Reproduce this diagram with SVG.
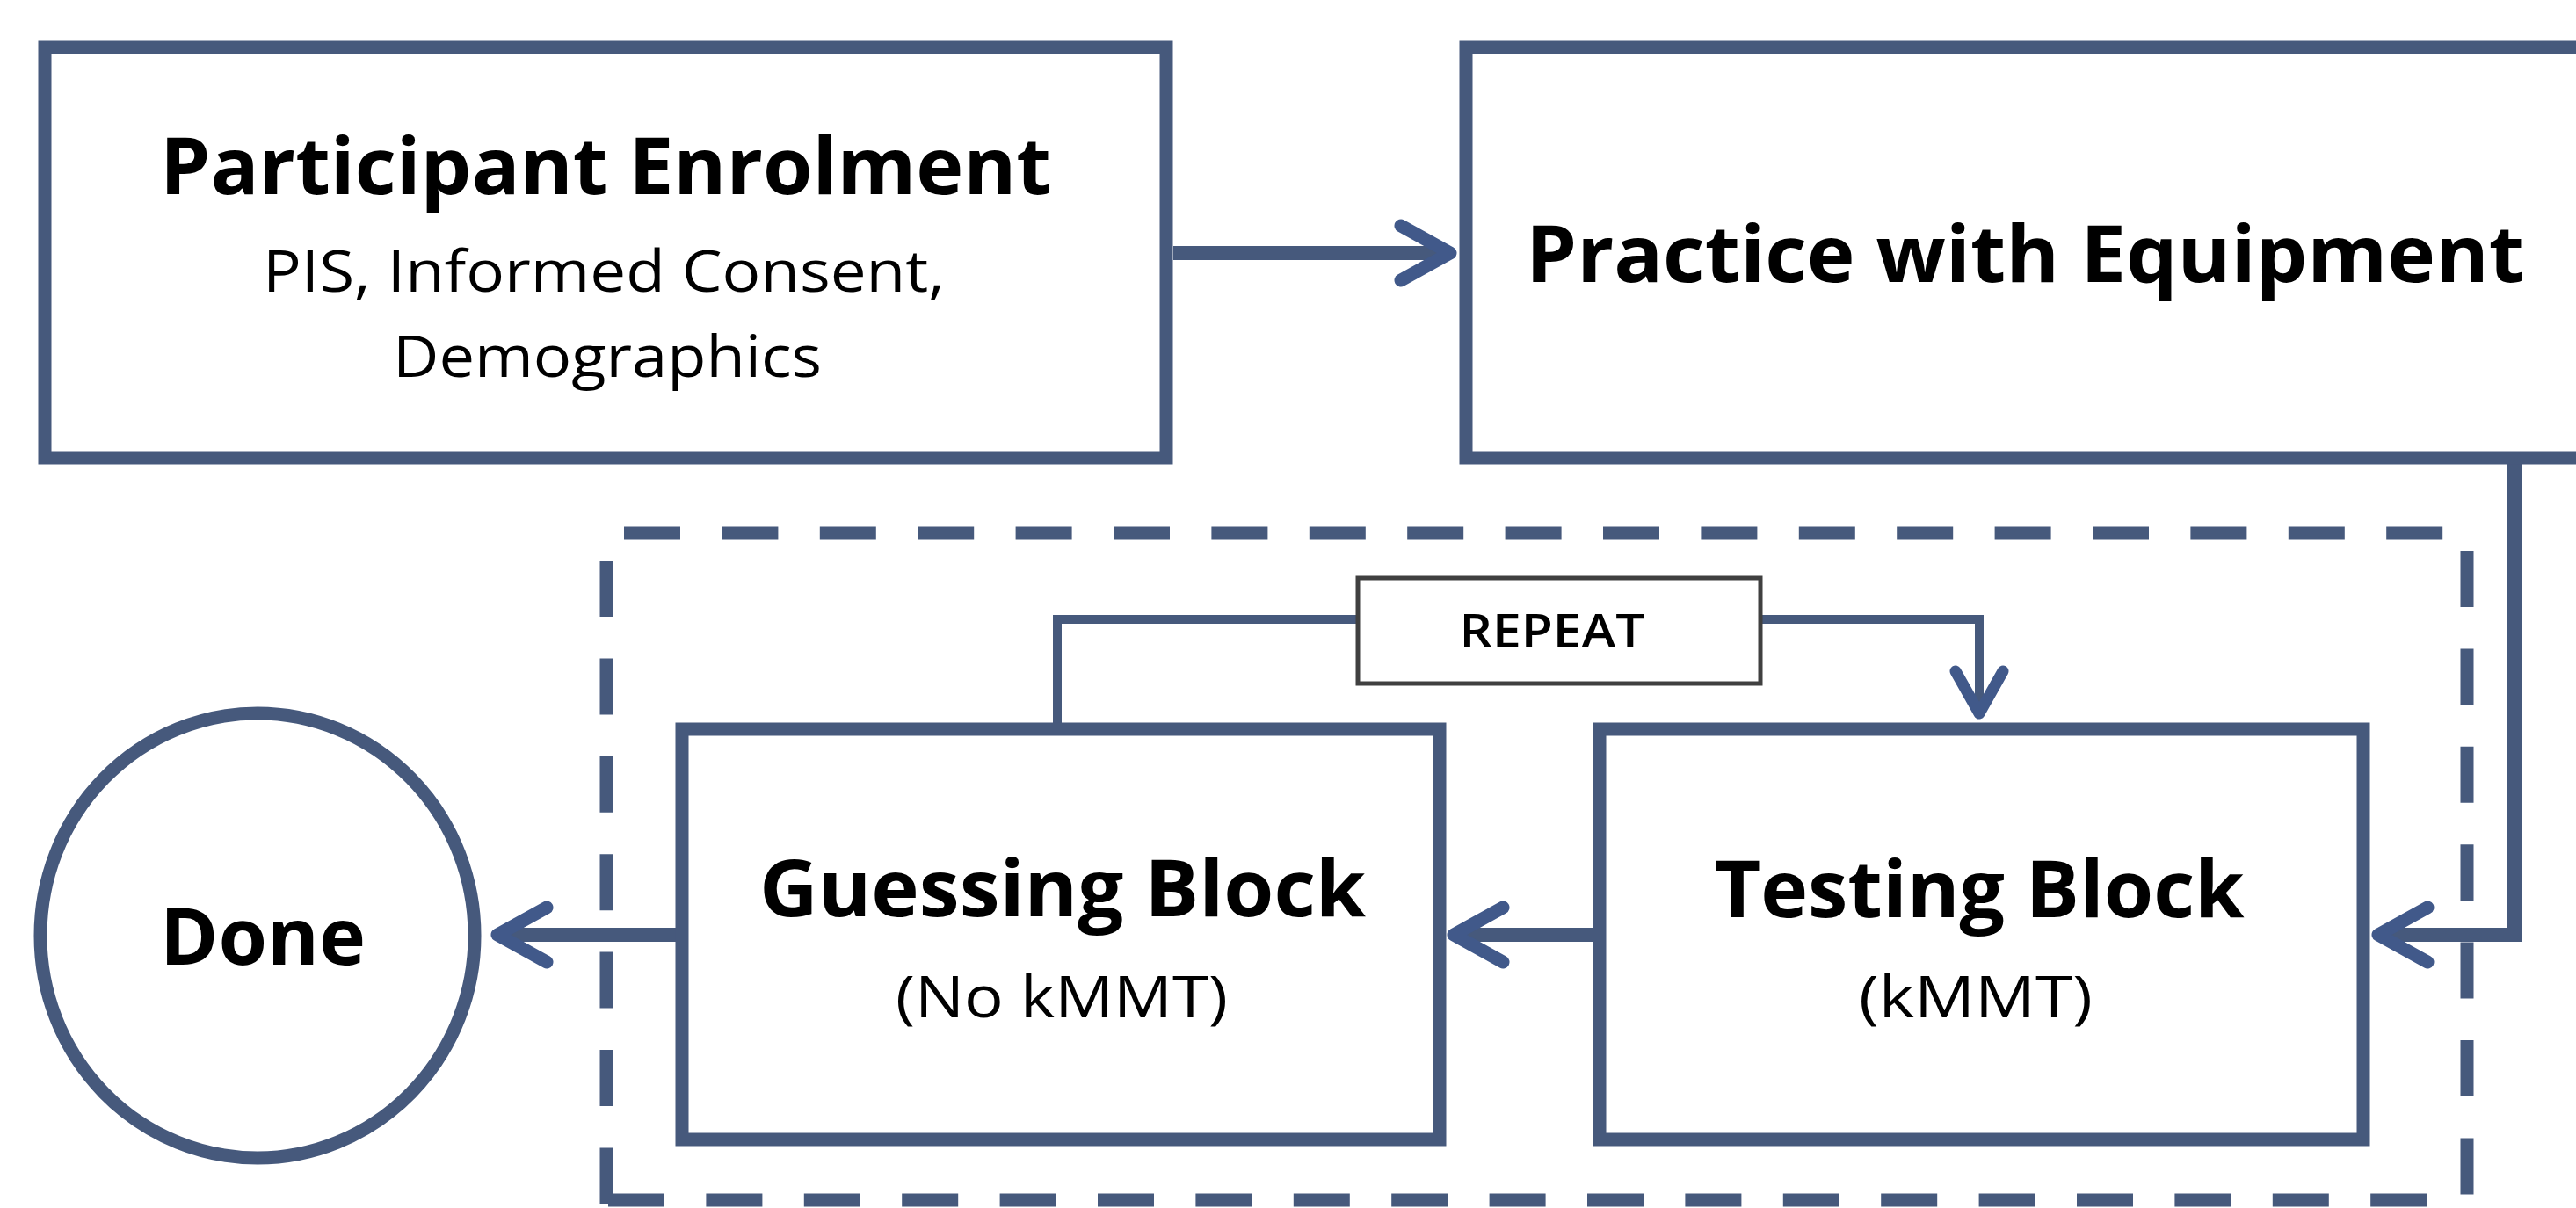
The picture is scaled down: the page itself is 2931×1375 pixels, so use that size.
<svg xmlns="http://www.w3.org/2000/svg" width="2931" height="1375" viewBox="0 0 2931 1375">
  <style>
    .box { fill: #ffffff; stroke: #46597c; stroke-width: 15; }
    .conn { fill: none; stroke: #46597c; stroke-width: 16; }
    .thin { fill: none; stroke: #46597c; stroke-width: 10; }
    .dash { fill: none; stroke: #46597c; stroke-width: 15; stroke-dasharray: 64 47.4; }
    .head { font-family: "Open Sans", "Noto Sans", "Liberation Sans", sans-serif; font-weight: 700; font-size: 90px; fill: #000; text-anchor: middle; }
    .sub { font-family: "Open Sans", "Noto Sans", "Liberation Sans", sans-serif; font-weight: 400; font-size: 66px; fill: #000; text-anchor: middle; }
    .rep { font-family: "Open Sans", "Noto Sans", "Liberation Sans", sans-serif; font-weight: 600; font-size: 52px; fill: #000; text-anchor: middle; }
  </style>
  <defs>
    <marker id="arrow" markerUnits="userSpaceOnUse" viewBox="-70 -45 80 90" refX="0" refY="0" markerWidth="80" markerHeight="90" orient="auto">
      <path d="M-56,-31 L0,0 L-56,31" fill="none" stroke="#41598a" stroke-width="15" stroke-linecap="round" stroke-linejoin="round"/>
    </marker>
    <marker id="arrowSmall" markerUnits="userSpaceOnUse" viewBox="-65 -40 75 80" refX="0" refY="0" markerWidth="75" markerHeight="80" orient="auto">
      <path d="M-48,-27 L0,0 L-48,27" fill="none" stroke="#41598a" stroke-width="13" stroke-linecap="round" stroke-linejoin="round"/>
    </marker>
  </defs>
  <rect width="2931" height="1375" fill="#ffffff"/>

  <g id="loop-container">
    <line class="dash" x1="710" y1="607" x2="2782" y2="607"/>
    <line class="dash" x1="2807" y1="627" x2="2807" y2="1375"/>
    <line class="dash" x1="692" y1="1366" x2="2807" y2="1366"/>
    <line class="dash" x1="690" y1="638" x2="690" y2="1375"/>
  </g>

  <g id="connectors">
    <path class="conn" d="M1335,288 H1650" marker-end="url(#arrow)"/>
    <path class="conn" d="M2861,521 V1064 H2706" marker-end="url(#arrow)"/>
    <path class="conn" d="M1813,1064 H1654" marker-end="url(#arrow)"/>
    <path class="conn" d="M769,1064 H566" marker-end="url(#arrow)"/>
    <path class="thin" d="M1203,830 V705 H1545"/>
    <path class="thin" d="M2003,705 H2252 V812" marker-end="url(#arrowSmall)"/>
  </g>

  <g id="participant-enrolment">
    <rect class="box" x="51" y="54" width="1276" height="467"/>
    <text class="head" x="689" y="221" textLength="1014" lengthAdjust="spacingAndGlyphs">Participant Enrolment</text>
    <text class="sub" x="687" y="332" textLength="776" lengthAdjust="spacingAndGlyphs">PIS, Informed Consent,</text>
    <text class="sub" x="691" y="429" textLength="488" lengthAdjust="spacingAndGlyphs">Demographics</text>
  </g>

  <g id="practice-with-equipment">
    <rect class="box" x="1668" y="54" width="1300" height="467"/>
    <text class="head" x="2304" y="321" textLength="1136" lengthAdjust="spacingAndGlyphs">Practice with Equipment</text>
  </g>

  <g id="guessing-block">
    <rect class="box" x="776" y="830" width="862" height="467"/>
    <text class="head" x="1209" y="1043" textLength="690" lengthAdjust="spacingAndGlyphs">Guessing Block</text>
    <text class="sub" x="1208" y="1158" textLength="378" lengthAdjust="spacingAndGlyphs">(No kMMT)</text>
  </g>

  <g id="testing-block">
    <rect class="box" x="1820" y="830" width="869" height="467"/>
    <text class="head" x="2252" y="1044" textLength="603" lengthAdjust="spacingAndGlyphs">Testing Block</text>
    <text class="sub" x="2248" y="1158" textLength="266" lengthAdjust="spacingAndGlyphs">(kMMT)</text>
  </g>

  <g id="repeat-label">
    <rect x="1545" y="658" width="458" height="120" fill="#ffffff" stroke="#404040" stroke-width="5"/>
    <text class="rep" x="1766" y="737" textLength="211" lengthAdjust="spacingAndGlyphs">REPEAT</text>
  </g>

  <g id="done">
    <ellipse class="box" cx="293" cy="1065" rx="247" ry="253"/>
    <text class="head" x="299" y="1098" textLength="234" lengthAdjust="spacingAndGlyphs">Done</text>
  </g>
</svg>
